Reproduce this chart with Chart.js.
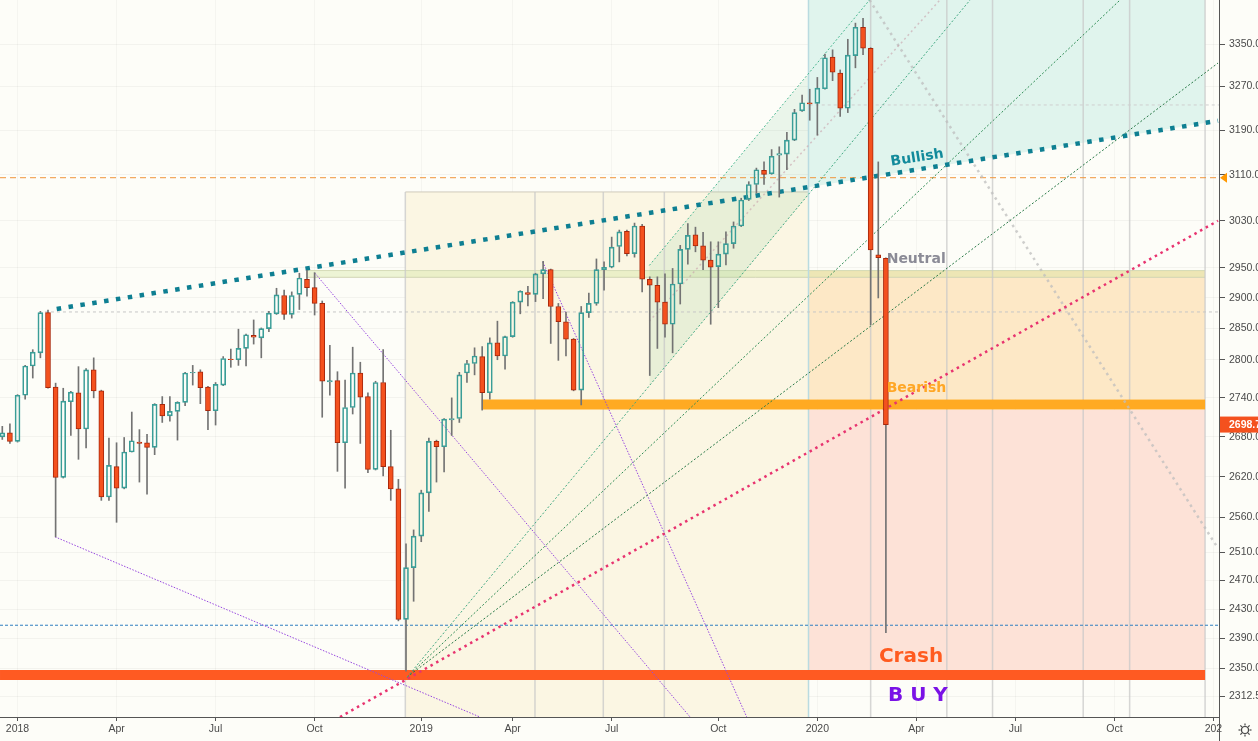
<!DOCTYPE html>
<html>
<head>
<meta charset="utf-8">
<script src="https://cdn.jsdelivr.net/npm/chart.js@4.4.1/dist/chart.umd.min.js"></script>
<style>
html, body { margin: 0; padding: 0; background: #fdfdf8; overflow: hidden; }
#wrap { width: 1258px; height: 741px; overflow: hidden; position: relative; }
canvas { display: block; }
</style>
</head>
<body>
<div id="wrap"><canvas id="chart" width="1290" height="741"></canvas></div>
<script>
Chart.defaults.font.family = "'Liberation Sans', Arial, sans-serif";
Chart.defaults.animation = false;

// weekly candles, index 0 = week of 2017-12-18
const opens = [2680,2686,2673,2744,2790,2811,2876,2757,2619,2734,
  2748,2692,2784,2751,2590,2635,2603,2657,2672,2671,
  2664,2730,2712,2719,2733,2779,2781,2757,2720,2760,
  2801,2800,2818,2839,2835,2850,2874,2904,2873,2906,
  2931,2917,2891,2765,2767,2671,2725,2779,2742,2631,
  2764,2635,2602,2416,2488,2533,2596,2673,2665,2706,
  2708,2779,2794,2805,2748,2827,2806,2837,2893,2909,
  2906,2940,2947,2886,2861,2833,2752,2876,2891,2947,
  2951,2986,3012,2974,3021,2931,2921,2893,2857,2923,
  2981,3006,2987,2963,2952,2973,2991,3021,3067,3093,
  3118,3112,3145,3147,3172,3225,3240,3239,3266,3325,
  3295,3230,3328,3382,3342,2972,2966];
const highs = [2696,2700,2745,2791,2816,2878,2880,2763,2755,2750,
  2789,2786,2803,2752,2678,2671,2679,2718,2691,2684,
  2731,2742,2742,2734,2780,2791,2784,2758,2764,2805,
  2817,2849,2841,2864,2851,2878,2916,2913,2910,2941,
  2946,2942,2895,2823,2781,2768,2820,2796,2748,2766,
  2816,2690,2616,2522,2542,2600,2678,2675,2708,2740,
  2780,2799,2819,2821,2835,2862,2838,2894,2912,2919,
  2941,2961,2948,2891,2877,2834,2886,2908,2965,2960,
  3002,3014,3014,3026,3024,2935,2935,2940,2949,2988,
  3025,3019,3010,2994,2994,3011,3028,3069,3098,3122,
  3133,3155,3160,3186,3228,3254,3265,3287,3331,3339,
  3301,3359,3390,3399,3343,3133,2967];
const lows = [2676,2670,2672,2738,2771,2803,2755,2532,2618,2682,
  2646,2663,2740,2585,2585,2553,2602,2657,2612,2594,
  2653,2702,2704,2675,2728,2760,2731,2691,2698,2759,
  2788,2791,2790,2825,2803,2845,2873,2865,2867,2881,
  2903,2872,2710,2744,2628,2603,2715,2670,2626,2630,
  2621,2585,2414,2346,2441,2525,2569,2612,2627,2682,
  2702,2764,2776,2721,2738,2800,2785,2836,2874,2887,
  2894,2899,2826,2799,2806,2751,2729,2868,2888,2913,
  2950,2960,2970,2968,2910,2775,2818,2836,2811,2890,
  2956,2977,2947,2857,2884,2955,2983,3020,3065,3078,
  3093,3111,3071,3119,3171,3224,3208,3181,3265,3281,
  3215,3222,3305,3330,2856,2900,2398];
const closes = [2686,2673,2744,2790,2812,2876,2756,2619,2735,2749,
  2692,2784,2751,2590,2637,2603,2657,2674,2670,2664,
  2730,2712,2719,2733,2779,2780,2756,2720,2761,2802,
  2800,2818,2840,2836,2850,2875,2905,2873,2904,2933,
  2917,2891,2766,2767,2671,2725,2779,2741,2631,2764,
  2635,2602,2416,2488,2533,2596,2673,2665,2707,2708,
  2776,2794,2806,2748,2827,2806,2837,2893,2911,2906,
  2940,2947,2886,2861,2833,2752,2876,2891,2947,2951,
  2985,3011,2974,3021,2931,2921,2893,2857,2923,2981,
  3005,2987,2963,2951,2973,2991,3021,3066,3093,3119,
  3111,3143,3148,3172,3222,3240,3238,3267,3324,3297,
  3230,3329,3382,3342,2980,2967,2698.75];

// time axis: label on first weekly bar of the month
const xTickIdx = [2, 15, 28, 41, 55, 67, 80, 94, 107, 120, 133, 146, 159];
const xTickLabels = ['2018', 'Apr', 'Jul', 'Oct', '2019', 'Apr', 'Jul', 'Oct', '2020', 'Apr', 'Jul', 'Oct', '202'];
const yTicks = [2312.5, 2350, 2390, 2430, 2470, 2510, 2560, 2620, 2680, 2740,
  2800, 2850, 2900, 2950, 3030, 3110, 3190, 3270, 3350];
const lastPrice = 2698.75;
const alertPrice = 3105;

// zones (bar index range, top price, bottom price)
const beigeBox = [52.91, 105.84, 3080, 2285.7];
const orangeBox = [105.84, 157.9, 2945.5, 2737.4];
const pinkBox = [105.84, 157.9, 2721.7, 2347];
const greenBand = [39.87, 157.9, 2945.5, 2934.2];
const tealEdge = [[105.84, 3088], [157.9, 3203]];   // bullish line under the teal zone
const chanTop = [[84.94, 2954], [105.84, 3293]];
const chanBot = [[84.94, 2759], [105.84, 3075]];

// trend lines [[i1, p1], [i2, p2]]
const bullishLine = [[7.14, 2882], [159.6, 3207]];
const pinkLine = [[44.33, 2285.7], [159.6, 3030]];
const fanLines = [
  [[53.13, 2338], [127.05, 3434.8]],
  [[53.13, 2338], [146.74, 3434.8]],
  [[53.13, 2338], [159.6, 3314]]
];
const chanUpperLine = [[84.94, 2954], [113.85, 3434.8]];
const chanMidLine = [[84.94, 2862], [123.1, 3434.8]];
const purpleLines = [
  [[6.92, 2532], [62.7, 2285.7]],
  [[41.05, 2941], [90.29, 2285.7]],
  [[70.95, 2960], [97.73, 2285.7]]
];
const greyLine = [[113.85, 3434.8], [159.4, 2519]];

// horizontal levels
const levelPrice = [2877, 3236, 3105, 2408];
const levelFrom = [5.6, 106, -0.3, -0.3];
const levelColor = ['#c6c6c6', '#cfcfcf', '#f0953a', '#2f7fc0'];
const levelDash = [[3, 3], [3, 3], [6, 4], [3, 2]];
const bandPrice = [2729.6, 2340.8];
const bandFrom = [62.94, -0.3];
const bandColor = ['#ffaa22', '#ff5a22'];

// vertical markers
const vertIdx = [52.91, 69.93, 78.9, 86.91, 105.84, 114.0, 124.0, 130.0, 141.9, 148.0, 157.9];
const vertTop = [3080, 3080, 3080, 3080, 3434.8, 3434.8, 3434.8, 3434.8, 3434.8, 3434.8, 3434.8];

// notes on chart
const noteText = ['Bullish', 'Neutral', 'Bearish', 'Crash', 'B U Y'];
const noteIdx = [120.1, 116.1, 116.1, 119.3, 120.2];
const notePrice = [3140, 2964.8, 2755.3, 2365.5, 2313.6];
const noteColor = ['#118a9b', '#8b8b96', '#ffa726', '#ff5b1f', '#7a12e6'];

const X_MIN = -0.302, X_MAX = 159.73, Y_MIN = 2285.7, Y_MAX = 3434.8;
const UP = '#3a9d97', DOWN = '#f4511e', DOWN_EDGE = '#a8280c', WICK = '#737373';

const weekIdx = opens.map((_, i) => i);
const pts = seg => seg.map(([x, y]) => ({ x, y }));

function lineDs(seg, color, width, dash, order) {
  return { type: 'line', data: pts(seg), borderColor: color, borderWidth: width,
    borderDash: dash, borderCapStyle: 'butt', pointRadius: 0, fill: false, order };
}
function boxDs(box, color, order, edge) {
  return { type: 'line', data: [{ x: box[0], y: box[2] }, { x: box[1], y: box[2] }],
    fill: { value: box[3] }, backgroundColor: color, borderColor: edge || 'rgba(0,0,0,0)',
    borderWidth: edge ? 1 : 0, pointRadius: 0, order };
}

const datasets = [
  boxDs(beigeBox, '#fbf6e3', 100, '#cfcabb'),
  boxDs(orangeBox, '#fde8c6', 95, '#fbd9a0'),
  boxDs(pinkBox, '#fde2d7', 95),
  { type: 'line', data: pts(tealEdge), fill: 'end', backgroundColor: '#e0f4ed',
    borderWidth: 0, pointRadius: 0, order: 95 },
  boxDs(greenBand, 'rgba(205,225,150,0.35)', 90, '#d6dcb8'),
  lineDs([[greenBand[0], greenBand[3]], [greenBand[1], greenBand[3]]], '#d2d3b8', 1, [], 90),
  { type: 'line', data: pts(chanTop), borderWidth: 0, pointRadius: 0, fill: false, order: 89 },
  { type: 'line', data: pts(chanBot), borderWidth: 0, pointRadius: 0, fill: '-1',
    backgroundColor: 'rgba(110,195,140,0.13)', order: 89 }
];

vertIdx.forEach((v, k) => {
  datasets.push(lineDs([[v, vertTop[k]], [v, Y_MIN]], k === 4 ? '#b9dbe0' : 'rgba(200,200,200,0.75)', 1.5, [], 80));
});
levelPrice.forEach((p, k) => {
  datasets.push(lineDs([[levelFrom[k], p], [X_MAX, p]], levelColor[k], 1, levelDash[k], 70));
});
bandPrice.forEach((p, k) => {
  datasets.push(lineDs([[bandFrom[k], p], [157.9, p]], bandColor[k], 10, [], 60));
});
fanLines.forEach((seg, k) => {
  datasets.push(lineDs(seg, ['#43a983', '#2f8c55', '#2a7a48'][k], 1, [2, 2], 50));
});
datasets.push(lineDs(chanUpperLine, '#4cb892', 1, [2, 2], 50));
datasets.push(lineDs(chanMidLine, 'rgba(200,160,170,0.6)', 1.5, [2, 3], 50));
purpleLines.forEach(seg => datasets.push(lineDs(seg, '#9747e0', 1, [1.5, 1.5], 50)));
datasets.push(lineDs(greyLine, 'rgba(190,190,190,0.75)', 2.5, [2.5, 4], 50));
datasets.push(lineDs(pinkLine, '#e8336f', 2.5, [2.5, 4], 45));
datasets.push(lineDs(bullishLine, '#0e7f92', 4.5, [4.5, 7.5], 40));

// candles: wicks then bodies
datasets.push({ type: 'bar', grouped: false, barThickness: 1, backgroundColor: WICK, order: 3,
  data: weekIdx.map(i => ({ x: i, y: [Math.max(opens[i], closes[i]), highs[i]] })) });
datasets.push({ type: 'bar', grouped: false, barThickness: 1, backgroundColor: WICK, order: 3,
  data: weekIdx.map(i => ({ x: i, y: [lows[i], Math.min(opens[i], closes[i])] })) });
datasets.push({ type: 'bar', grouped: false, barThickness: 5, borderWidth: 1, borderSkipped: false, order: 1,
  data: weekIdx.map(i => ({ x: i, y: [opens[i], closes[i]] })),
  backgroundColor: weekIdx.map(i => closes[i] >= opens[i] ? 'rgba(0,0,0,0)' : DOWN),
  borderColor: weekIdx.map(i => closes[i] >= opens[i] ? UP : DOWN_EDGE) });

const decor = {
  id: 'decor',
  beforeDraw(chart) {
    const { ctx, width, height } = chart;
    ctx.save();
    ctx.fillStyle = '#fdfdf8';
    ctx.fillRect(0, 0, width, height);
    ctx.restore();
  },
  afterDatasetsDraw(chart) {
    const { ctx, scales: { x, y } } = chart;
    ctx.save();
    noteText.forEach((t, k) => {
      const px = x.getPixelForValue(noteIdx[k]);
      const py = y.getPixelForValue(notePrice[k]);
      const big = k >= 3;
      ctx.font = 'bold ' + (big ? 20 : 14) + "px 'DejaVu Sans', sans-serif";
      ctx.fillStyle = noteColor[k];
      ctx.textBaseline = 'middle';
      if (k === 0) {
        ctx.save();
        ctx.translate(px, py);
        ctx.rotate(-9 * Math.PI / 180);
        ctx.textAlign = 'center';
        ctx.fillText(t, 0, 0);
        ctx.restore();
      } else {
        ctx.textAlign = big ? 'center' : 'left';
        ctx.fillText(t, px, py);
      }
    });
    ctx.restore();
  },
  afterDraw(chart) {
    const { ctx, chartArea: a, scales: { y } } = chart;
    ctx.save();
    // axis separator through the time row
    ctx.strokeStyle = '#555';
    ctx.lineWidth = 1;
    ctx.beginPath();
    ctx.moveTo(a.right + 0.5, a.bottom);
    ctx.lineTo(a.right + 0.5, 741);
    ctx.stroke();
    // alert marker
    const ay = y.getPixelForValue(alertPrice);
    ctx.fillStyle = '#ff9800';
    ctx.beginPath();
    ctx.moveTo(a.right + 1, ay);
    ctx.lineTo(a.right + 8, ay - 5);
    ctx.lineTo(a.right + 8, ay + 5);
    ctx.closePath();
    ctx.fill();
    // last price tag
    const ly = y.getPixelForValue(lastPrice);
    ctx.fillStyle = '#f4511e';
    ctx.fillRect(a.right + 1, ly - 8, 80, 16);
    ctx.fillStyle = '#ffffff';
    ctx.font = "bold 10.5px 'Liberation Sans', Arial, sans-serif";
    ctx.textBaseline = 'middle';
    ctx.textAlign = 'left';
    ctx.fillText(lastPrice.toFixed(2), a.right + 10, ly + 0.5);
    // settings gear
    const gx = 1245, gy = 730;
    ctx.strokeStyle = '#444';
    ctx.lineWidth = 1.2;
    ctx.beginPath();
    ctx.arc(gx, gy, 3.5, 0, Math.PI * 2);
    ctx.stroke();
    for (let k = 0; k < 8; k++) {
      const ang = k * Math.PI / 4;
      ctx.beginPath();
      ctx.moveTo(gx + Math.cos(ang) * 4.5, gy + Math.sin(ang) * 4.5);
      ctx.lineTo(gx + Math.cos(ang) * 6.5, gy + Math.sin(ang) * 6.5);
      ctx.stroke();
    }
    ctx.restore();
  }
};

new Chart(document.getElementById('chart'), {
  type: 'bar',
  data: { datasets },
  options: {
    responsive: false,
    animation: false,
    events: [],
    layout: { padding: 0 },
    plugins: { legend: { display: false }, tooltip: { enabled: false } },
    scales: {
      x: {
        type: 'linear', min: X_MIN, max: X_MAX, offset: false,
        grid: { offset: false, color: 'rgba(0,0,0,0.03)', tickColor: '#555', tickLength: 4 },
        border: { color: '#555', width: 1 },
        ticks: { autoSkip: false, maxRotation: 0, padding: 2, color: '#4a4a4a',
          font: { size: 10.5 }, callback: (v, k) => xTickLabels[k] },
        afterBuildTicks: s => { s.ticks = xTickIdx.map(v => ({ value: v })); },
        afterFit: s => { s.height = 24; s.paddingLeft = 0; s.paddingRight = 0; }
      },
      y: {
        type: 'logarithmic', position: 'right', min: Y_MIN, max: Y_MAX,
        grid: { color: 'rgba(0,0,0,0.04)', tickColor: '#555', tickLength: 6 },
        border: { color: '#555', width: 1 },
        ticks: { autoSkip: false, padding: 4, color: '#4a4a4a', font: { size: 10.5 },
          callback: v => Number(v).toFixed(2) },
        afterBuildTicks: s => { s.ticks = yTicks.map(v => ({ value: v })); },
        afterFit: s => { s.width = 71; s.paddingTop = 0; s.paddingBottom = 0; }
      }
    }
  },
  plugins: [decor]
});
</script>
</body>
</html>
